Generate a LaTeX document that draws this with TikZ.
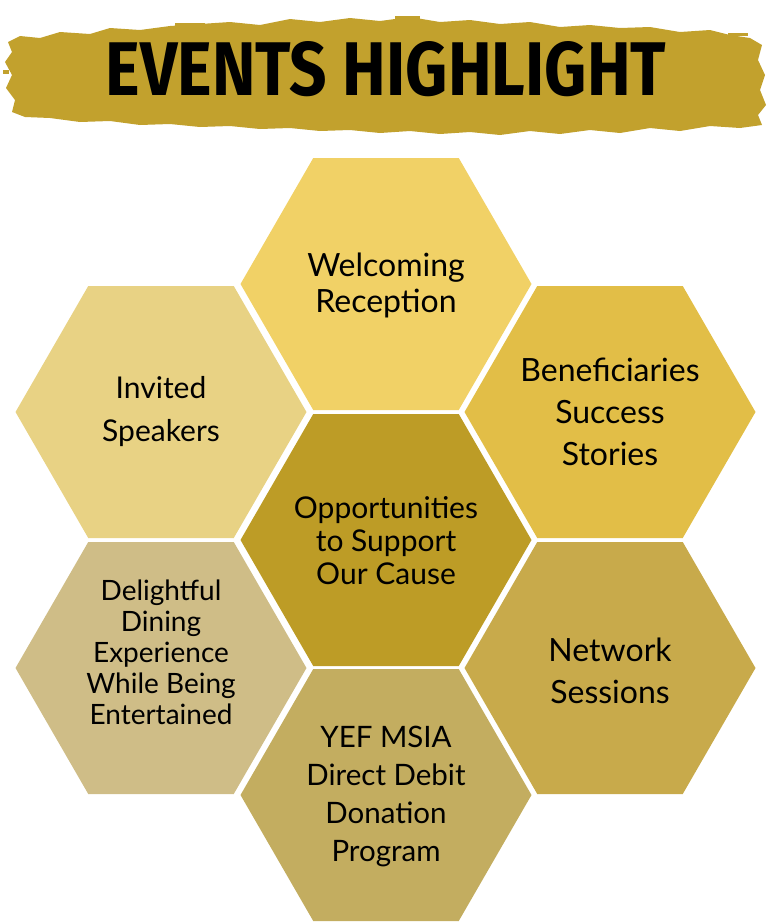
\documentclass[tikz,border=0pt]{standalone}
\usepackage{fontspec}
\usepackage{graphicx}
\setmainfont{Lato}
\newfontfamily\titlefont{Fira Sans}
\definecolor{brush}{HTML}{C2A12D}
\definecolor{hexA}{HTML}{F1D166}
\definecolor{hexB}{HTML}{E8D284}
\definecolor{hexC}{HTML}{E2BE47}
\definecolor{hexD}{HTML}{BD9C26}
\definecolor{hexE}{HTML}{CFBD87}
\definecolor{hexF}{HTML}{C8AA4B}
\definecolor{hexG}{HTML}{C3AD60}
\tikzset{
  hexlabel/.style 2 args={align=center, text=black, inner sep=0pt, font=\fontsize{#1}{#2}\selectfont},
}
\newcommand{\hexfill}[3]{%
  \fill[#3] (#1,#2) ++(145.5,0) -- ++(-72.75,126) -- ++(-145.5,0) -- ++(-72.75,-126) -- ++(72.75,-126) -- ++(145.5,0) -- cycle;}
\begin{document}
\begin{tikzpicture}[x=1pt,y=-1pt]
\useasboundingbox (0,0) rectangle (768,922);
% brush stroke
\fill[brush] (8,42)--(20,36)--(40,38)--(60,32)--(90,34)--(110,28)--(140,30)--(170,26)--(200,24)--(230,22)--(260,25)--(290,19)--(320,22)--(350,18)--(380,21)--(410,17)--(440,22)--(470,20)--(500,24)--(530,22)--(560,27)--(590,25)--(620,28)--(650,27)--(680,32)--(710,30)--(730,35)--(750,38)--(762,45)
 --(758,60)--(765,75)--(760,90)--(766,105)--(758,115)--(762,125)
 --(740,128)--(710,126)--(680,131)--(650,128)--(620,133)--(590,130)--(560,134)--(530,131)--(500,135)--(470,132)--(440,134)--(410,131)--(380,133)--(350,130)--(320,131)--(290,128)--(260,129)--(230,126)--(200,127)--(170,124)--(140,125)--(110,121)--(80,122)--(50,118)--(25,117)--(12,112)
 --(15,100)--(6,88)--(12,75)--(5,62)--(12,52)--cycle;
\fill[brush] (175,23) rectangle (205,26);
\fill[brush] (395,16) rectangle (420,19);
\fill[brush] (728,33) rectangle (748,36);
\fill[brush] (3,70) rectangle (9,74);
% title
\node[inner sep=0pt] (title) at (386,69) {\resizebox{560pt}{54pt}{\titlefont\bfseries EVENTS HIGHLIGHT}};
% hexagons
\hexfill{386}{284}{hexA}
\hexfill{161}{412}{hexB}
\hexfill{610}{412}{hexC}
\hexfill{386}{540}{hexD}
\hexfill{161}{668}{hexE}
\hexfill{610}{668}{hexF}
\hexfill{386}{795}{hexG}
% labels
\node[hexlabel={32}{36}] (welcome) at (386,285) {Welcoming\\Reception};
\node[hexlabel={30}{43}] (invited) at (161,412) {Invited\\Speakers};
\node[hexlabel={32}{42}] (benef) at (610,412) {Beneficiaries\\Success\\Stories};
\node[hexlabel={30}{33}] (opp) at (386,541) {Opportunities\\to Support\\Our Cause};
\node[hexlabel={28}{31}] (dining) at (161,652) {Delightful\\Dining\\Experience\\While Being\\Entertained};
\node[hexlabel={32}{42}] (network) at (610,671) {Network\\Sessions};
\node[hexlabel={29.5}{38}] (yef) at (386,796) {YEF MSIA\\Direct Debit\\Donation\\Program};
\end{tikzpicture}
\end{document}
